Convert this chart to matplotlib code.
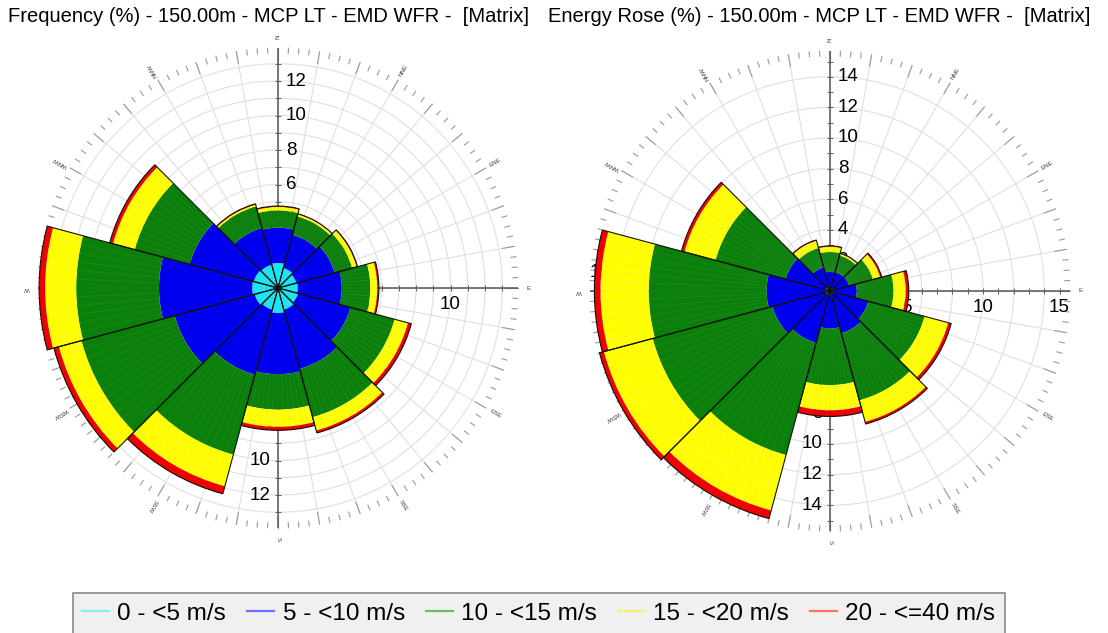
import numpy as np
import matplotlib
matplotlib.use("Agg")
import matplotlib.pyplot as plt
from matplotlib.lines import Line2D

plt.rcParams['font.family'] = ['Liberation Sans', 'DejaVu Sans']

# sectors, clockwise from north
directions = ["N", "NNE", "ENE", "E", "ESE", "SSE", "S", "SSW", "WSW", "W", "WNW", "NNW"]
speed_bins = ["0 - <5 m/s", "5 - <10 m/s", "10 - <15 m/s", "15 - <20 m/s", "20 - <=40 m/s"]

# Frequency (%) per sector for each speed bin
freq_0_5 = [1.45, 1.2, 1.1, 1.15, 1.2, 1.3, 1.45, 1.3, 1.4, 1.5, 1.45, 1.4]
freq_5_10 = [2.05, 2.0, 2.3, 2.55, 3.15, 3.55, 3.55, 3.9, 4.8, 5.4, 3.85, 2.2]
freq_10_15 = [1.0, 1.1, 1.05, 1.65, 2.65, 2.9, 2.05, 4.8, 5.6, 4.8, 3.3, 1.3]
freq_15_20 = [0.2, 0.12, 0.27, 0.4, 0.8, 0.8, 1.0, 1.9, 1.35, 1.8, 1.3, 0.1]
freq_20_40 = [0.05, 0.03, 0.05, 0.1, 0.2, 0.15, 0.2, 0.45, 0.3, 0.35, 0.2, 0.05]

# Energy rose (%) per sector for each speed bin
energy_0_5 = [0.2, 0.2, 0.2, 0.25, 0.25, 0.25, 0.25, 0.25, 0.3, 0.3, 0.3, 0.25]
energy_5_10 = [1.05, 1.08, 1.1, 1.5, 2.35, 2.6, 2.2, 3.25, 3.6, 3.85, 2.7, 1.35]
energy_10_15 = [1.3, 1.12, 1.6, 2.4, 3.8, 4.55, 3.7, 7.6, 8.1, 7.7, 4.75, 1.3]
energy_15_20 = [0.35, 0.12, 0.5, 0.8, 1.6, 1.45, 1.65, 3.75, 3.3, 3.15, 2.1, 0.5]
energy_20_40 = [0.05, 0.03, 0.1, 0.2, 0.2, 0.15, 0.4, 0.55, 0.3, 0.4, 0.2, 0.05]

bin_colors = ["#1EE3F0", "#0000EE", "#0A800A", "#FFFF00", "#F00000"]
# faint slice lines inside the outer bands (None = no lines)
slice_colors = [None, None, "#2A8C2A", "#ECE658", "#D80A0A"]
legend_colors = ["#7FF0F8", "#7070FF", "#70B870", "#F2F270", "#FF7070"]

W, H = 1108, 633
fig = plt.figure(figsize=(W / 100, H / 100), dpi=100)


def draw_rose(center, px, grid_step, v_ticks, h_ticks, bins, title, title_x):
    cx, cy = center
    R = 240.0                      # outer ring, pixels
    ring = R / px
    ax = fig.add_axes([(cx - R) / W, (H - cy - R) / H, 2 * R / W, 2 * R / H],
                      projection="polar")
    ax.set_theta_zero_location("N")
    ax.set_theta_direction(-1)
    ax.set_ylim(0, ring)
    ax.set_xticks([])
    ax.set_yticks([])
    ax.grid(False)
    ax.spines["polar"].set_visible(False)
    ax.patch.set_alpha(0)

    # light grid: circles and 10 degree spokes
    full = np.linspace(0, 2 * np.pi, 721)
    for r in np.arange(grid_step, ring - 0.4, grid_step):
        ax.plot(full, np.full_like(full, r), color="#e0e0e0", lw=0.8, zorder=0)
    for deg in range(0, 360, 10):
        t = np.radians(deg)
        ax.plot([t, t], [0, ring], color="#e0e0e0", lw=0.8, zorder=0)

    # ticks round the outer ring
    for k in range(144):
        deg = k * 2.5
        t = np.radians(deg)
        r0 = ring - (12 if deg % 10 == 0 else 5) / px
        ax.plot([t, t], [r0, ring], color="#9a9a9a", lw=0.8, zorder=1, clip_on=False)

    # main N/E/S/W axes
    rs = np.arange(1, ring, 1.0)
    for deg in (0, 90, 180, 270):
        t = np.radians(deg)
        ax.plot([t, t], [0, ring], color="#555555", lw=1.1, zorder=1)
        ax.plot(np.full_like(rs, t), rs, ls="none",
                marker="_" if deg in (0, 180) else "|",
                ms=4, mew=0.7, color="#606060", zorder=1)

    # radial labels (drawn below the bars)
    for v in v_ticks:
        ax.annotate(str(v), xy=(0, v), xytext=(5.5, 0), textcoords="offset points",
                    ha="left", va="center", fontsize=13.5, zorder=1.5)
        ax.annotate(str(v), xy=(np.pi, v), xytext=(-5.5, 0), textcoords="offset points",
                    ha="right", va="center", fontsize=13.5, zorder=1.5)
    for v in h_ticks:
        ax.annotate(str(v), xy=(np.pi / 2, v), xytext=(0, -12), textcoords="offset points",
                    ha="center", va="center", fontsize=13.5, zorder=1.5)
        ax.annotate(str(v), xy=(3 * np.pi / 2, v), xytext=(0, 13), textcoords="offset points",
                    ha="center", va="center", fontsize=13.5, zorder=1.5)

    # compass labels
    for i, name in enumerate(directions):
        deg = i * 30
        ax.text(np.radians(deg), ring + 11 / px, name, rotation=90 - deg,
                rotation_mode="anchor", ha="center", va="center",
                fontsize=4.5, color="#404040", clip_on=False)

    # stacked sectors
    n = len(directions)
    theta = np.radians(np.arange(n) * 30)
    width = np.radians(30)
    offsets = np.radians(np.arange(-12.5, 12.6, 2.5))
    bottom = np.zeros(n)
    for vals, col, scol in zip(bins, bin_colors, slice_colors):
        vals = np.array(vals)
        ax.bar(theta, vals, width=width, bottom=bottom, color=col,
               edgecolor="none", linewidth=0, zorder=3)
        top = bottom + vals
        if scol is not None:
            tt, rr = [], []
            for i in range(n):
                for off in offsets:
                    tt += [theta[i] + off, theta[i] + off, np.nan]
                    rr += [bottom[i], top[i], np.nan]
            ax.plot(tt, rr, color=scol, lw=0.35, zorder=3.5)
        bottom = top
    ax.bar(theta, bottom, width=width, bottom=0, fill=False,
           edgecolor="#111111", linewidth=0.8, zorder=4)

    fig.text(title_x / W, 1 - 17 / H, title, ha="left", va="center", fontsize=14.5)


draw_rose((278, 288), 17.25, 1, [2, 4, 6, 8, 10, 12], [5, 10],
          [freq_0_5, freq_5_10, freq_10_15, freq_15_20, freq_20_40],
          "Frequency (%) - 150.00m - MCP LT - EMD WFR -  [Matrix]", 8)
draw_rose((830, 291), 15.3, 2, [2, 4, 6, 8, 10, 12, 14], [5, 10, 15],
          [energy_0_5, energy_5_10, energy_10_15, energy_15_20, energy_20_40],
          "Energy Rose (%) - 150.00m - MCP LT - EMD WFR -  [Matrix]", 548)

handles = [Line2D([0], [0], color=c, lw=1.6) for c in legend_colors]
leg = fig.legend(handles, speed_bins, loc="upper left",
                 bbox_to_anchor=(72.5 / W, 1 - 593 / H, 932.5 / W, 0), mode="expand",
                 ncol=5, frameon=True, fancybox=False, edgecolor="#8a8a8a",
                 facecolor="#f0f0f0", framealpha=1, fontsize=17.5, handlelength=1.1,
                 handletextpad=0.35, borderaxespad=0, borderpad=0.4)
leg.get_frame().set_linewidth(1.2)

fig.savefig("out.png", dpi=100)
